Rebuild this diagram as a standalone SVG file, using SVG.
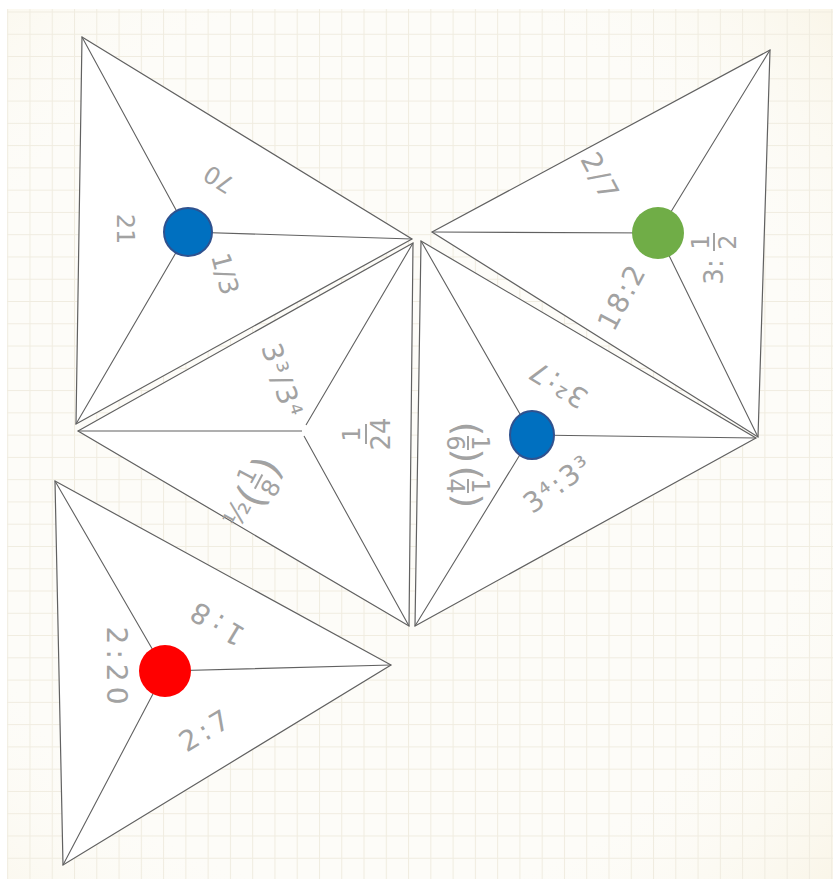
<svg xmlns="http://www.w3.org/2000/svg" width="833" height="882" viewBox="0 0 833 882">
<style>
.tri{fill:#ffffff;stroke:#616161;stroke-width:1.2;stroke-linejoin:miter}
.ln{stroke:#616161;stroke-width:1.1;fill:none}
.lb{font-family:"DejaVu Sans",sans-serif;font-size:24px;fill:#a2a2a2;text-anchor:middle;dominant-baseline:central}
.big{font-size:28px;letter-spacing:2px}
.bar{stroke:#a2a2a2;stroke-width:2}
</style>
<defs>
<pattern id="grid" patternUnits="userSpaceOnUse" x="7.2" y="11.5" width="22.27" height="22.27">
<path d="M0 0.5H22.27M0.5 0V22.27" stroke="#f0ece0" stroke-width="1.1" fill="none"/>
</pattern>
<radialGradient id="tint" cx="0.45" cy="0.5" r="0.8">
<stop offset="0.65" stop-color="#fbf9ef" stop-opacity="0"/>
<stop offset="1" stop-color="#f5ecd2" stop-opacity="0.6"/>
</radialGradient>
</defs>
<rect x="0" y="0" width="833" height="882" fill="#ffffff"/>
<rect x="7" y="9" width="826" height="870" fill="#fdfcf8"/>
<rect x="7" y="9" width="826" height="870" fill="url(#tint)"/>
<rect x="7" y="9" width="826" height="870" fill="url(#grid)"/>

<g id="triA">
<polygon class="tri" points="82,37 412,239 76,424"/>
<path class="ln" d="M188,232L82,37M188,232L412,239M188,232L76,424"/>
<circle cx="188" cy="232" r="24" fill="#0070c0" stroke="#2f528f" stroke-width="2"/>
<text class="lb" transform="translate(125,229) rotate(90)">21</text>
<text class="lb" transform="translate(219,179) rotate(212)">70</text>
<text class="lb" transform="translate(225,274) rotate(75)" style="font-size:26px">1/3</text>
</g>

<g id="triB">
<polygon class="tri" points="78,431 413,243 409,626"/>
<path class="ln" d="M302,431L78,431M306,425L413,243M304,436L409,626"/>
<text class="lb big" transform="translate(282,381) rotate(72)">3³/3⁴</text>
<g transform="translate(366,434) rotate(-90)">
<text class="lb" x="0" y="-14">1</text>
<line class="bar" x1="-10" y1="0" x2="10" y2="0"/>
<text class="lb" x="0" y="15" style="font-size:26px">24</text>
</g>
<g transform="translate(254,486) rotate(-62)">
<text class="lb" x="-32" y="-2" style="font-size:28px">½</text>
<text class="lb" x="-11" y="2" style="font-size:40px">(</text>
<text class="lb" x="6" y="-11">1</text>
<line class="bar" x1="-2" y1="2" x2="14" y2="2"/>
<text class="lb" x="6" y="16">8</text>
<text class="lb" x="23" y="2" style="font-size:40px">)</text>
</g>
</g>

<g id="triC">
<polygon class="tri" points="421,241 415,626 756,438"/>
<path class="ln" d="M532,435L421,241M532,435L415,626M532,435L756,438"/>
<ellipse cx="532" cy="435" rx="22" ry="24" fill="#0070c0" stroke="#2f528f" stroke-width="2"/>
<g transform="translate(469,465) rotate(90)">
<text class="lb" x="-36" y="1" style="font-size:38px">(</text>
<text class="lb" x="-22" y="-11">1</text>
<line class="bar" x1="-29" y1="1" x2="-15" y2="1"/>
<text class="lb" x="-22" y="14">6</text>
<text class="lb" x="-9" y="1" style="font-size:38px">)</text>
<text class="lb" x="8" y="1" style="font-size:38px">(</text>
<text class="lb" x="21" y="-11">1</text>
<line class="bar" x1="14" y1="1" x2="28" y2="1"/>
<text class="lb" x="21" y="14">4</text>
<text class="lb" x="36" y="1" style="font-size:38px">)</text>
</g>
<text class="lb big" transform="translate(558,384) rotate(212)">3²:7</text>
<text class="lb big" transform="translate(558,484) rotate(-36)">3⁴:3³</text>
</g>

<g id="triE">
<polygon class="tri" points="432,232 770,50 758,437"/>
<path class="ln" d="M658,233L432,232M658,233L770,50M658,233L758,437"/>
<circle cx="658" cy="233" r="26" fill="#70ad47"/>
<text class="lb big" transform="translate(600,177) rotate(62)">2/7</text>
<g transform="translate(714,254) rotate(-90)">
<text class="lb" x="-18" y="0" style="font-size:26px">3:</text>
<text class="lb" x="12" y="-13">1</text>
<line class="bar" x1="3" y1="0" x2="21" y2="0"/>
<text class="lb" x="12" y="14">2</text>
</g>
<text class="lb big" transform="translate(622,297) rotate(-62)">18:2</text>
</g>

<g id="triD">
<polygon class="tri" points="55,481 391,665 63,865"/>
<path class="ln" d="M165,671L55,481M165,671L391,665M165,671L63,865"/>
<circle cx="165" cy="671" r="26" fill="#ff0000"/>
<text class="lb big" transform="translate(116,668) rotate(90)" style="letter-spacing:5px">2:20</text>
<text class="lb big" transform="translate(215,622) rotate(211)" style="letter-spacing:6px">1:8</text>
<text class="lb big" transform="translate(206,730) rotate(-31)" style="letter-spacing:4px">2:7</text>
</g>

<g id="connectors"></g>
</svg>
